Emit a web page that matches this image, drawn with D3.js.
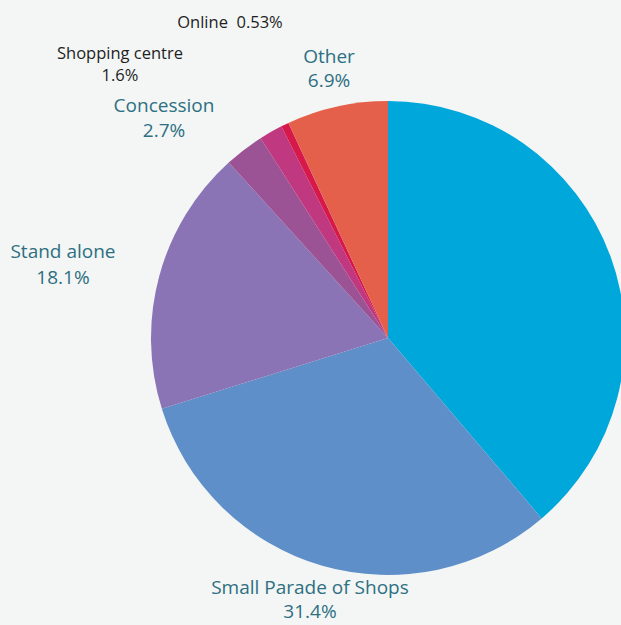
<!DOCTYPE html>
<html>
<head>
<meta charset="utf-8">
<script src="https://cdn.jsdelivr.net/npm/d3@7/dist/d3.min.js"></script>
<style>
  html, body { margin: 0; padding: 0; background: #f3f6f5; }
  svg { display: block; }
  text { font-family: "Open Sans", "Noto Sans", sans-serif; }
</style>
</head>
<body>
<svg id="chart" width="621" height="625"></svg>
<script>
// Retail location shares (%), clockwise from 12 o'clock
const categories = ["Retail park", "Small Parade of Shops", "Stand alone", "Concession", "Shopping centre", "Online", "Other"];
const values = [38.77, 31.4, 18.1, 2.7, 1.6, 0.53, 6.9];
const valueLabels = ["38.8%", "31.4%", "18.1%", "2.7%", "1.6%", "0.53%", "6.9%"];
const colors = ["#00a7db", "#5f8fc9", "#8b74b5", "#9b5396", "#c0387f", "#d6184b", "#e5604a"];

const width = 621, height = 625;
const cx = 388, cy = 338, radius = 237;

const svg = d3.select("#chart");
svg.append("rect").attr("width", width).attr("height", height).attr("fill", "#f3f6f5");

const data = categories.map((c, i) => ({ name: c, value: values[i], label: valueLabels[i], color: colors[i] }));

const pie = d3.pie().value(d => d.value).sort(null);
const arc = d3.arc().innerRadius(0).outerRadius(radius);

const g = svg.append("g").attr("transform", `translate(${cx},${cy})`);
g.selectAll("path")
  .data(pie(data))
  .join("path")
  .attr("d", arc)
  .attr("fill", d => d.data.color);

// Label placement for the slices that carry a label
const labelLayout = {
  "Small Parade of Shops": { x: 310, y: 594, big: true, twoLine: true, gap: 24 },
  "Stand alone":           { x: 63,  y: 258, big: true, twoLine: true, gap: 26 },
  "Concession":            { x: 164, y: 112, big: true, twoLine: true, gap: 25 },
  "Shopping centre":       { x: 120, y: 59,  big: false, twoLine: true, gap: 22 },
  "Online":                { x: 230, y: 28,  big: false, twoLine: false },
  "Other":                 { x: 329, y: 63,  big: true, twoLine: true, gap: 24 }
};

const labels = svg.append("g");
data.filter(d => labelLayout[d.name]).forEach(d => {
  const L = labelLayout[d.name];
  const t = labels.append("text")
    .attr("text-anchor", "middle")
    .attr("fill", L.big ? "#2e6f82" : "#1e1e1e")
    .attr("font-size", L.big ? 19 : 16.5);
  if (L.twoLine) {
    t.append("tspan").attr("x", L.x).attr("y", L.y).text(d.name);
    t.append("tspan").attr("x", L.x).attr("y", L.y + L.gap).text(d.label);
  } else {
    t.attr("x", L.x).attr("y", L.y).attr("xml:space", "preserve").text(d.name + "  " + d.label);
  }
});
</script>
</body>
</html>
